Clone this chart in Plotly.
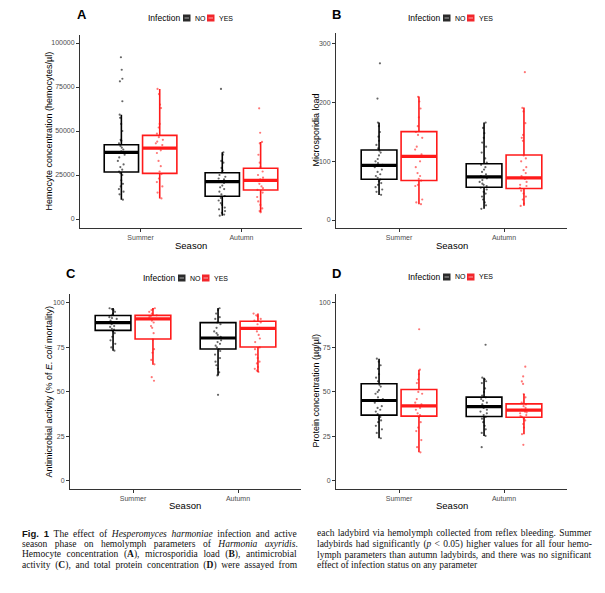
import plotly.graph_objects as go

# The page body has an 8px margin, so the figure is drawn at (8, 8) in the window.
PAGE_W, PAGE_H = 605, 593
OFF = 8
W, H = PAGE_W - OFF, PAGE_H - OFF

seasons = ["Summer", "Autumn"]
season_pos = [1, 2]
groups = ["NO", "YES"]
group_colors = {"NO": "#000000", "YES": "#FF1A1A"}
key_colors = {"NO": "#2B2B2B", "YES": "#F2262B"}

# ---------------- Panel A: hemocyte concentration ----------------
hemo_q1 = {"NO": [26700, 12900], "YES": [25900, 16500]}
hemo_med = {"NO": [37900, 21200], "YES": [40300, 22000]}
hemo_q3 = {"NO": [42200, 26300], "YES": [47500, 28800]}
hemo_lo = {"NO": [11000, 1900], "YES": [11700, 3800]}
hemo_hi = {"NO": [59300, 37900], "YES": [73900, 43800]}
hemo_pts = {
    ("NO", "Summer"): [91900, 84800, 79700, 78200, 66900, 59300, 57500, 54000, 50000, 45000, 44500,
                       43000, 41500, 40500, 39500, 38500, 38000, 37900, 37500, 36500, 35000, 33000,
                       31000, 29500, 28000, 27000, 26000, 25000, 22000, 20000, 18500, 17000, 15500,
                       14000, 11000],
    ("YES", "Summer"): [73900, 71000, 65000, 63000, 54000, 52000, 48500, 46500, 45000, 44000, 43000,
                        42000, 40300, 39000, 37500, 33000, 30000, 27000, 25500, 23000, 21000, 18500,
                        15000, 11700],
    ("NO", "Autumn"): [73900, 37900, 36500, 33000, 32000, 29000, 27500, 26500, 25000, 24000, 23000,
                       22500, 21500, 21200, 20500, 19000, 18000, 17000, 15500, 14000, 13000, 12000,
                       10500, 9000, 8000, 6500, 5500, 4500, 3500, 2500, 1900],
    ("YES", "Autumn"): [62900, 49000, 43800, 43000, 36500, 32000, 29500, 27000, 25000, 23500, 22500,
                        22000, 21500, 20000, 18500, 17500, 16500, 15000, 12500, 10000, 8000, 6000,
                        4500, 3800],
}
hemo_ticks = [0, 25000, 50000, 75000, 100000]

# ---------------- Panel B: microsporidia load ----------------
micro_q1 = {"NO": [69.6, 55.9], "YES": [67.3, 53.6]}
micro_med = {"NO": [93, 73.6], "YES": [108.4, 71.9]}
micro_q3 = {"NO": [119.2, 95.8], "YES": [150.6, 110.7]}
micro_lo = {"NO": [42.8, 19.4], "YES": [26.8, 24.5]}
micro_hi = {"NO": [166, 166], "YES": [210.5, 191.7]}
micro_pts = {
    ("NO", "Summer"): [267, 207, 166, 160, 150, 142, 135, 128, 122, 118, 115, 110, 104, 100, 97, 94,
                       93, 90, 86, 82, 78, 75, 72, 69, 66, 63, 60, 56, 52, 48, 43],
    ("YES", "Summer"): [210, 202, 190, 175, 160, 150, 145, 140, 125, 120, 112, 108, 100, 90, 80, 75,
                        70, 67, 60, 58, 35, 30, 27],
    ("NO", "Autumn"): [166, 157, 148, 140, 132, 125, 115, 105, 98, 94, 90, 86, 82, 78, 75, 73, 71,
                       68, 65, 62, 60, 58, 55, 52, 48, 45, 40, 35, 30, 25, 19],
    ("YES", "Autumn"): [252, 191, 185, 165, 145, 140, 135, 110, 105, 100, 90, 85, 80, 75, 72, 70, 65,
                        60, 58, 55, 50, 45, 40, 35, 28, 24],
}
micro_ticks = [0, 100, 200, 300]

# ---------------- Panel C: antimicrobial activity ----------------
anti_q1 = {"NO": [84.6, 74.1], "YES": [79.7, 75.2]}
anti_med = {"NO": [88.9, 80.3], "YES": [91.0, 85.7]}
anti_q3 = {"NO": [92.9, 88.9], "YES": [93.0, 89.7]}
anti_lo = {"NO": [73.2, 59.3], "YES": [65.3, 61.2]}
anti_hi = {"NO": [97.2, 97.2], "YES": [97.2, 94.0]}
anti_pts = {
    ("NO", "Summer"): [97, 96.5, 96, 95, 94, 93, 92, 91.5, 91, 90, 89, 88.9, 88, 87, 86.5, 85.5, 85,
                       84, 83, 81, 79, 77, 75, 73.2],
    ("YES", "Summer"): [97, 96.5, 96, 95, 94, 93, 92.5, 92, 91, 90, 89, 87, 86, 83, 79.5, 74, 72, 68,
                        65.5, 58.3, 56.3],
    ("NO", "Autumn"): [97, 96, 94, 92, 91, 89, 88, 86, 84, 83, 82, 81, 80.3, 79, 78, 77, 76, 75, 74,
                       73, 71, 69, 67, 65, 63, 61, 59.3, 48.4],
    ("YES", "Autumn"): [94, 93, 92.5, 91, 90, 89, 88, 86, 85.7, 84, 82, 80, 78, 75, 74, 71, 69, 67,
                        66, 64, 63, 62, 61.2],
}
anti_ticks = [0, 25, 50, 75, 100]

# ---------------- Panel D: protein concentration ----------------
prot_q1 = {"NO": [37.0, 36.2], "YES": [36.4, 35.8]}
prot_med = {"NO": [45.2, 41.8], "YES": [42.2, 39.8]}
prot_q3 = {"NO": [54.6, 47.1], "YES": [51.4, 43.3]}
prot_lo = {"NO": [24.0, 25.3], "YES": [16.1, 26.3]}
prot_hi = {"NO": [68.7, 58.0], "YES": [62.5, 48.8]}
prot_pts = {
    ("NO", "Summer"): [68.7, 67, 65, 63, 60, 58, 56, 54, 53, 51, 50, 49, 47, 46, 45.2, 44, 42, 41, 40,
                       39, 37.5, 36, 35, 34, 33, 31, 29, 27, 24],
    ("YES", "Summer"): [85.2, 62.5, 60, 57, 55, 50, 49, 46, 44, 43, 42.2, 41, 40, 38, 37, 36, 33, 30,
                        28, 23, 19, 16.1],
    ("NO", "Autumn"): [76.5, 58, 57, 56, 55, 52, 50, 48, 47, 46, 45, 44, 43, 42, 41.8, 41, 40, 39, 38,
                       37, 36, 35, 33, 31, 29, 27, 25.3, 19],
    ("YES", "Autumn"): [64.2, 58.7, 55.9, 54.5, 48.8, 47, 44, 43, 42, 41, 40, 39.8, 39, 38.5, 38, 37,
                        36.5, 36, 35, 34, 32, 30, 26.3, 20.3],
}
prot_ticks = [0, 25, 50, 75, 100]

legend_title = "Infection"

# ---------------- layout geometry (page pixels) ----------------
panels = [
    dict(letter="A", q1=hemo_q1, med=hemo_med, q3=hemo_q3, lo=hemo_lo, hi=hemo_hi, pts=hemo_pts,
         ticks=hemo_ticks, yrange=[-5114, 104545],
         ytitle="Hemocyte concentration (hemocytes/µl)", ytitle_x=48,
         px=(80, 302), py=(35, 228), letter_xy=(81.5, 15), leg_xy=(147, 18), season_y=245),
    dict(letter="B", q1=micro_q1, med=micro_med, q3=micro_q3, lo=micro_lo, hi=micro_hi, pts=micro_pts,
         ticks=micro_ticks, yrange=[-13.6, 318.7],
         ytitle="Microsporidia load", ytitle_x=315,
         px=(336, 567), py=(33, 228), letter_xy=(336, 15), leg_xy=(407, 18), season_y=245),
    dict(letter="C", q1=anti_q1, med=anti_med, q3=anti_q3, lo=anti_lo, hi=anti_hi, pts=anti_pts,
         ticks=anti_ticks, yrange=[-4.5, 105],
         ytitle="Antimicrobial activity (% of <i>E. coli</i> mortality)", ytitle_x=48,
         px=(70, 301), py=(294, 489), letter_xy=(70.5, 274), leg_xy=(142, 278), season_y=505),
    dict(letter="D", q1=prot_q1, med=prot_med, q3=prot_q3, lo=prot_lo, hi=prot_hi, pts=prot_pts,
         ticks=prot_ticks, yrange=[-4.5, 105],
         ytitle="Protein concentration (µg/µl)", ytitle_x=315,
         px=(336, 567), py=(294, 489), letter_xy=(336.5, 274), leg_xy=(407, 277), season_y=505),
]


def pxx(x):
    return (x - OFF) / W


def pxy(y):
    return 1 - (y - OFF) / H


dodge = 0.19
box_w = 0.34
offsets = {"NO": -dodge, "YES": dodge}

FONT = "Liberation Sans, Arial, sans-serif"
SERIF = "Liberation Serif, Times New Roman, serif"

fig = go.Figure()
annotations = []
shapes = []
layout_upd = {}

for i, p in enumerate(panels):
    sfx = "" if i == 0 else str(i + 1)
    xa, ya = "x" + sfx, "y" + sfx
    for g in groups:
        col = group_colors[g]
        xs = [s + offsets[g] for s in season_pos]
        fig.add_trace(go.Box(
            x=xs, q1=p["q1"][g], median=p["med"][g], q3=p["q3"][g],
            lowerfence=p["lo"][g], upperfence=p["hi"][g],
            width=box_w, whiskerwidth=0, boxpoints=False,
            fillcolor="white", line=dict(color=col, width=1.6),
            name=g, showlegend=False, xaxis=xa, yaxis=ya,
        ))
    for g in groups:
        col = group_colors[g]
        px_, py_ = [], []
        for s, pos in zip(seasons, season_pos):
            vals = p["pts"][(g, s)]
            px_ += [pos + offsets[g]] * len(vals)
            py_ += vals
        fig.add_trace(go.Box(
            x=px_, y=py_, boxpoints="all", jitter=0.25, pointpos=0, width=box_w,
            fillcolor="rgba(0,0,0,0)", line=dict(color="rgba(0,0,0,0)", width=0),
            whiskerwidth=0,
            marker=dict(color=col, size=2.2, opacity=0.6),
            showlegend=False, hoveron="points", xaxis=xa, yaxis=ya,
        ))
    for g in groups:
        col = group_colors[g]
        mx, my = [], []
        for pos, m in zip(season_pos, p["med"][g]):
            c = pos + offsets[g]
            mx += [c - box_w / 2, c + box_w / 2, None]
            my += [m, m, None]
        fig.add_trace(go.Scatter(x=mx, y=my, mode="lines", line=dict(color=col, width=3.2),
                                 showlegend=False, hoverinfo="skip", xaxis=xa, yaxis=ya))

    x0, x1 = p["px"]
    y0, y1 = p["py"]
    axis_common = dict(showline=True, linecolor="#333333", linewidth=1, ticks="outside",
                       ticklen=3, tickcolor="#333333", showgrid=False, zeroline=False,
                       tickfont=dict(family=FONT, size=7, color="#4D4D4D"))
    layout_upd["xaxis" + sfx] = dict(domain=[pxx(x0), pxx(x1)], range=[0.4, 2.6],
                                     tickvals=season_pos, ticktext=seasons,
                                     anchor=ya, **axis_common)
    layout_upd["yaxis" + sfx] = dict(domain=[pxy(y1), pxy(y0)], range=p["yrange"],
                                     tickvals=p["ticks"], ticktext=[str(t) for t in p["ticks"]],
                                     anchor=xa, **axis_common)

    # ---- legend (title + two keys) ----
    lx, ly = p["leg_xy"]
    annotations.append(dict(text=legend_title, x=pxx(lx), y=pxy(ly), xref="paper", yref="paper",
                            showarrow=False, xanchor="left", yanchor="middle", borderpad=0,
                            font=dict(family=FONT, size=8.5, color="#000")))
    for k, g in enumerate(groups):
        kx = lx + 36 + k * 24
        shapes.append(dict(type="rect", xref="paper", yref="paper",
                           x0=pxx(kx), x1=pxx(kx + 7.5), y0=pxy(ly + 3.5), y1=pxy(ly - 3.5),
                           fillcolor=key_colors[g], line=dict(width=0)))
        shapes.append(dict(type="line", xref="paper", yref="paper",
                           x0=pxx(kx + 1.5), x1=pxx(kx + 6), y0=pxy(ly), y1=pxy(ly),
                           line=dict(color="rgba(255,255,255,0.75)", width=0.8)))
        annotations.append(dict(text=g, x=pxx(kx + 10.5), y=pxy(ly), xref="paper", yref="paper",
                                showarrow=False, xanchor="left", yanchor="middle", borderpad=0,
                                font=dict(family=FONT, size=7, color="#000")))

    # panel letter
    annotations.append(dict(text="<b>%s</b>" % p["letter"], x=pxx(p["letter_xy"][0]),
                            y=pxy(p["letter_xy"][1]), xref="paper", yref="paper",
                            showarrow=False, font=dict(family=FONT, size=13, color="#000"),
                            xanchor="center", yanchor="middle"))
    # y axis title
    annotations.append(dict(text=p["ytitle"], x=pxx(p["ytitle_x"]), y=pxy((y0 + y1) / 2),
                            xref="paper", yref="paper", showarrow=False, textangle=-90,
                            font=dict(family=FONT, size=9, color="#000"),
                            xanchor="center", yanchor="middle"))
    # x axis title
    annotations.append(dict(text="Season", x=pxx((x0 + x1) / 2), y=pxy(p["season_y"]),
                            xref="paper", yref="paper", showarrow=False,
                            font=dict(family=FONT, size=9.5, color="#000"),
                            xanchor="center", yanchor="middle"))

# ---------------- caption (two justified columns) ----------------
caption_left = [
    "<span style='font-family:Liberation Sans'><b>Fig. 1</b></span> The effect of <i>Hesperomyces harmoniae</i> infection and active",
    "season phase on hemolymph parameters of <i>Harmonia axyridis</i>.",
    "Hemocyte concentration (<b>A</b>), microsporidia load (<b>B</b>), antimicrobial",
    "activity (<b>C</b>), and total protein concentration (<b>D</b>) were assayed from",
]
caption_right = [
    "each ladybird via hemolymph collected from reflex bleeding. Summer",
    "ladybirds had significantly (<i>p</i> &lt; 0.05) higher values for all four hemo-",
    "lymph parameters than autumn ladybirds, and there was no significant",
    "effect of infection status on any parameter",
]
# extra word spacing (px) used to imitate the justified columns
left_ws = [2.3, 5.1, 3.2, 2.3]
right_ws = [0.9, 0.9, 0.8, 0.0]
line_y = [533, 544, 554.7, 565.3]
for col_x, lines, wss in ((20.5, caption_left, left_ws), (316, caption_right, right_ws)):
    for ly, txt, ws in zip(line_y, lines, wss):
        annotations.append(dict(text="<span style='word-spacing:%.1fpx'>%s</span>" % (ws, txt),
                                x=pxx(col_x), y=pxy(ly), xref="paper", yref="paper",
                                showarrow=False, xanchor="left", yanchor="middle", borderpad=0,
                                font=dict(family=SERIF, size=9.5, color="#111")))

fig.update_layout(
    width=W, height=H, margin=dict(l=0, r=0, t=0, b=0),
    paper_bgcolor="white", plot_bgcolor="white", showlegend=False,
    boxmode="overlay", annotations=annotations, shapes=shapes, **layout_upd,
)

fig.write_html("out.html")
